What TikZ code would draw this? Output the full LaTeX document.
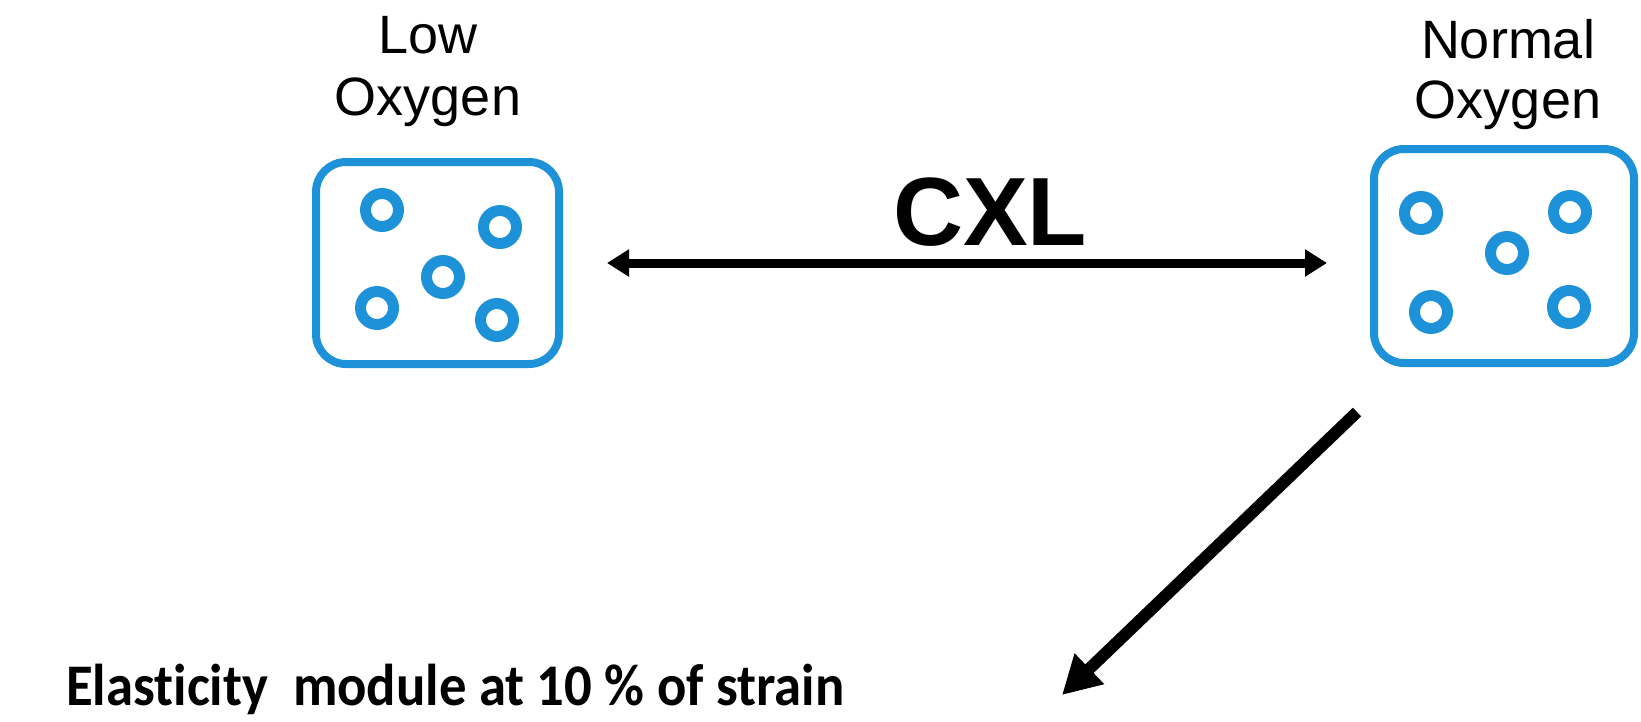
\documentclass[tikz,border=0pt]{standalone}
\usepackage{fontspec}
\setmainfont{Liberation Sans}
\newfontfamily\carlito[Ligatures=NoCommon]{Carlito}
\usetikzlibrary{arrows.meta}
\definecolor{iconblue}{RGB}{30,146,216}
\tikzset{
  label/.style={inner sep=0pt, anchor=base, font=\fontsize{54}{62}\selectfont},
  dish/.style={draw=iconblue, line width=8pt, rounded corners=30pt, inner sep=0pt},
  cell/.style={draw=iconblue, line width=11pt, circle, minimum size=33pt, inner sep=0pt},
  thinarrow/.style={line width=9pt, {Triangle[length=22pt,width=26pt]}-{Triangle[length=22pt,width=26pt]}},
  thickarrow/.style={line width=12pt, -{Triangle[length=38pt,width=40pt]}}
}
\begin{document}
\begin{tikzpicture}[x=1pt,y=-1pt]
\useasboundingbox (0,0) rectangle (1641,721);
% left
\node[label] (lowA) at (428,53) {Low};
\node[label] (lowB) at (428,115) {Oxygen};
\node[dish, minimum width=243pt, minimum height=202pt] (lbox) at (437.5,263) {};
\node[cell] (l1) at (382,210) {};
\node[cell] (l2) at (500,227) {};
\node[cell] (l3) at (443,277) {};
\node[cell] (l4) at (377,308) {};
\node[cell] (l5) at (497,320) {};
% right
\node[label] (norA) at (1508,58) {Normal};
\node[label] (norB) at (1508,118) {Oxygen};
\node[dish, minimum width=260pt, minimum height=214pt] (rbox) at (1504,256) {};
\node[cell] (r1) at (1421,213) {};
\node[cell] (r2) at (1570,212) {};
\node[cell] (r3) at (1507,253) {};
\node[cell] (r4) at (1431,312) {};
\node[cell] (r5) at (1569,307) {};
% CXL
\node[inner sep=0pt, anchor=base, font=\fontsize{97}{110}\selectfont\bfseries] (cxl) at (990,245) {CXL};
\draw[thinarrow, shorten <=44pt, shorten >=43pt] (lbox.east) -- (lbox.east -| rbox.west);
% bottom
\node[inner sep=0pt, anchor=base west, font=\carlito\bfseries\fontsize{59}{70}\selectfont] (elas) at (66,705)
  {\resizebox{778pt}{\height}{Elasticity\ \ module at 10 \% of strain}};
\coordinate (ds) at (1357,412);
\coordinate (de) at (1062,695);
\draw[thickarrow] (ds) -- (de);
\end{tikzpicture}
\end{document}
